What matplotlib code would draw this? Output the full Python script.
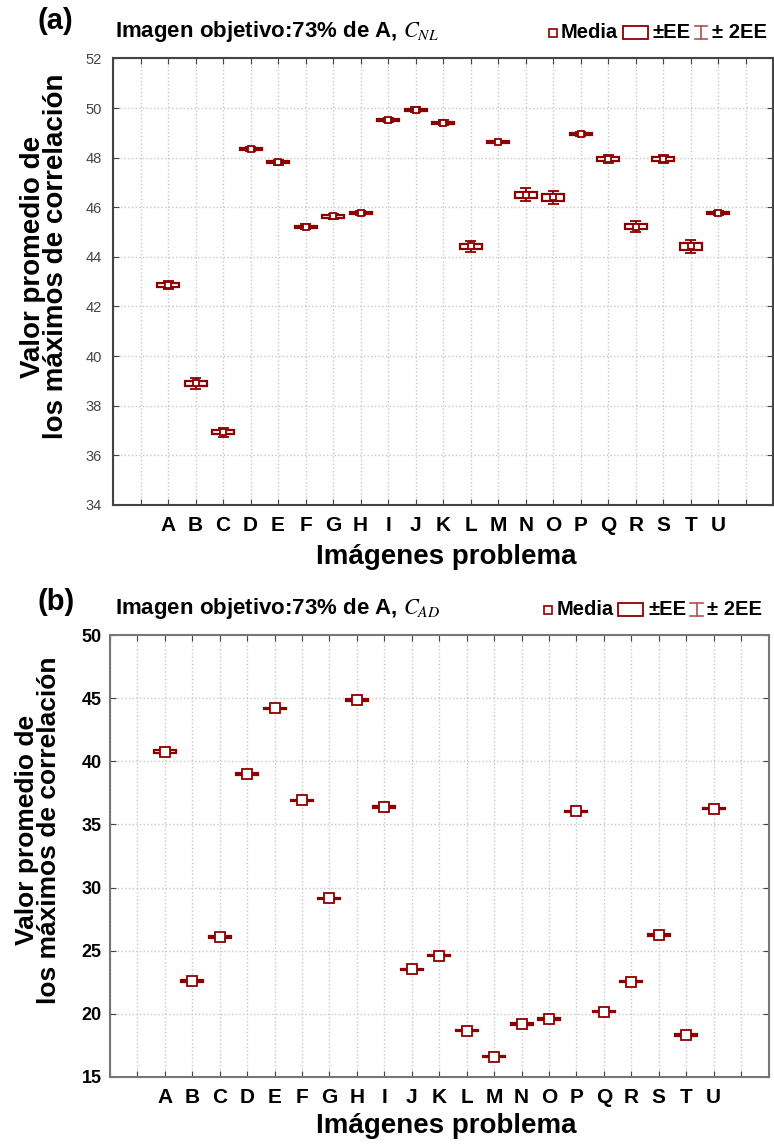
# Medias de los maximos de correlacion por imagen problema (paneles a y b)

import matplotlib.pyplot as plt
import numpy as np
from matplotlib.patches import Rectangle
from matplotlib.lines import Line2D
from matplotlib.offsetbox import AnchoredOffsetbox, HPacker, DrawingArea, TextArea

plt.rcParams['font.family'] = ['Liberation Sans', 'DejaVu Sans']
plt.rcParams['mathtext.fontset'] = 'stix'

categorias = ['A', 'B', 'C', 'D', 'E', 'F', 'G', 'H', 'I', 'J', 'K',
              'L', 'M', 'N', 'O', 'P', 'Q', 'R', 'S', 'T', 'U']

# panel (a): C_NL
medias_nl = [42.87, 38.90, 36.93, 48.35, 47.82, 45.21, 45.63, 45.76, 49.52, 49.93, 49.40,
             44.42, 48.63, 46.50, 46.40, 48.97, 47.93, 45.22, 47.93, 44.42, 45.75]
ee_nl = [0.08, 0.11, 0.09, 0.04, 0.05, 0.05, 0.05, 0.04, 0.04, 0.05, 0.05,
         0.11, 0.03, 0.13, 0.13, 0.04, 0.08, 0.11, 0.08, 0.13, 0.04]

# panel (b): C_AD
medias_ad = [40.76, 22.60, 26.08, 38.99, 44.19, 36.90, 29.15, 44.85, 36.38, 23.53, 24.60,
             18.67, 16.61, 19.20, 19.59, 36.03, 20.17, 22.55, 26.24, 18.33, 36.25]
ee_ad = [0.12, 0.07, 0.08, 0.05, 0.05, 0.06, 0.05, 0.07, 0.05, 0.05, 0.05,
         0.06, 0.03, 0.06, 0.07, 0.04, 0.05, 0.06, 0.06, 0.07, 0.06]

ROJO = '#8b0000'


def leyenda(ax):
    tp = dict(fontweight='bold', fontsize=14.5)
    d1 = DrawingArea(7, 12)
    d1.add_artist(Rectangle((1, 3), 5.5, 5.5, fc='white', ec=ROJO, lw=1.2))
    d2 = DrawingArea(20, 12)
    d2.add_artist(Rectangle((1, 1.5), 18, 9.5, fc='white', ec=ROJO, lw=1.3))
    d3 = DrawingArea(10, 12)
    d3.add_artist(Line2D([5, 5], [1.5, 11], color='#b05050', lw=1.2))
    d3.add_artist(Line2D([0.5, 9.5], [11, 11], color='#b05050', lw=1.2))
    d3.add_artist(Line2D([0.5, 9.5], [1.5, 1.5], color='#b05050', lw=1.2))
    fila = HPacker(children=[d1, TextArea('Media', textprops=tp), d2,
                             TextArea('±EE', textprops=tp), d3,
                             TextArea('± 2EE', textprops=tp)],
                   sep=2.5, align='center', pad=0)
    caja = AnchoredOffsetbox(loc='lower right', child=fila, bbox_to_anchor=(0.99, 1.036),
                             bbox_transform=ax.transAxes, frameon=False, borderpad=0, pad=0)
    ax.add_artist(caja)


def dibujar(ax, medias, ee, yticks, ms, spine_col):
    x = np.arange(1, len(categorias) + 1)
    for xi, m, s in zip(x, medias, ee):
        ax.vlines(xi, m - 2 * s, m + 2 * s, color=ROJO, lw=1.3, zorder=3)
        ax.hlines([m - 2 * s, m + 2 * s], xi - 0.2, xi + 0.2, color=ROJO, lw=1.3, zorder=3)
        ax.add_patch(Rectangle((xi - 0.4, m - s), 0.8, 2 * s, fc='white', ec=ROJO,
                               lw=1.6, zorder=4))
    ax.plot(x, medias, 's', ls='none', mfc='white', mec=ROJO, ms=ms, mew=1.3, zorder=5)

    ax.set_xlim(-1, 23)
    ax.set_ylim(yticks[0], yticks[-1])
    ax.set_xticks(np.arange(-1, 24))
    ax.set_xticklabels(['', ''] + categorias + ['', ''])
    ax.set_yticks(yticks)
    ax.grid(True, color='#c8c8c8', ls=':', lw=1.0)
    ax.set_axisbelow(True)
    ax.tick_params(direction='in', top=True, right=True, length=4, color='#444444')
    ax.tick_params(axis='x', pad=8)
    for lab in ax.get_xticklabels():
        lab.set_fontsize(15)
        lab.set_fontweight('bold')
    for sp in ax.spines.values():
        sp.set_color(spine_col)
        sp.set_linewidth(1.5)
    leyenda(ax)


fig = plt.figure(figsize=(7.74, 11.45), dpi=100)

ax1 = fig.add_axes([0.146, 0.559, 0.853, 0.390])
dibujar(ax1, medias_nl, ee_nl, np.arange(34, 53, 2), 5, '#444444')
ax1.tick_params(axis='y', labelsize=10.5, labelcolor='#444444', pad=8)

ax2 = fig.add_axes([0.142, 0.0594, 0.851, 0.386])
dibujar(ax2, medias_ad, ee_ad, np.arange(15, 51, 5), 7, '#777777')
ax2.tick_params(axis='y', labelsize=13, pad=6)
for lab in ax2.get_yticklabels():
    lab.set_fontweight('bold')

ylab = 'Valor promedio de\nlos máximos de correlación'
fig.text(0.057, 0.776, ylab, rotation=90, ha='center', va='center', fontsize=20,
         fontweight='bold', linespacing=0.85)
fig.text(0.049, 0.275, ylab, rotation=90, ha='center', va='center', fontsize=19,
         fontweight='bold', linespacing=0.85)

fig.text(0.577, 0.5135, 'Imágenes problema', ha='center', va='center', fontsize=20,
         fontweight='bold')
fig.text(0.577, 0.0166, 'Imágenes problema', ha='center', va='center', fontsize=20,
         fontweight='bold')

fig.text(0.049, 0.9815, '(a)', fontsize=21, fontweight='bold', va='center')
fig.text(0.049, 0.4745, '(b)', fontsize=21, fontweight='bold', va='center')

fig.text(0.148, 0.9725, 'Imagen objetivo:73% de A, $C_{NL}$', fontsize=16,
         fontweight='bold', va='center')
fig.text(0.148, 0.4685, 'Imagen objetivo:73% de A, $C_{AD}$', fontsize=16,
         fontweight='bold', va='center')

fig.savefig('out.png', dpi=100)
